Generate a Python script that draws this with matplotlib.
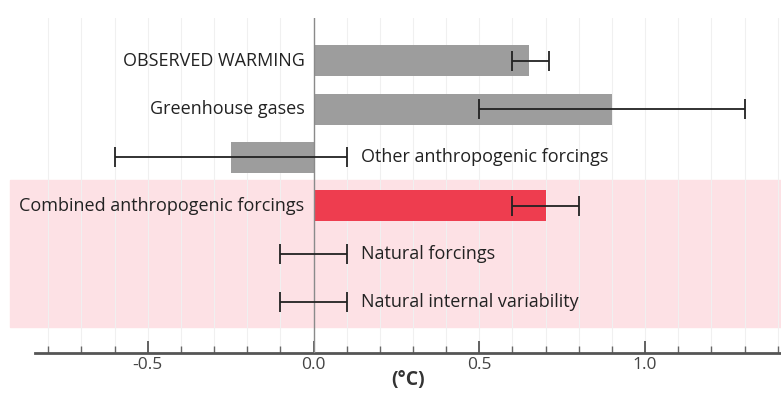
import numpy as np
import matplotlib
matplotlib.use("Agg")
import matplotlib.pyplot as plt
from matplotlib.ticker import MultipleLocator

plt.rcParams['font.family'] = ['Open Sans', 'DejaVu Sans']

# data
labels = ["OBSERVED WARMING", "Greenhouse gases", "Other anthropogenic forcings",
          "Combined anthropogenic forcings", "Natural forcings", "Natural internal variability"]
values = [0.65, 0.9, -0.25, 0.7, 0.0, 0.0]
err_lo = [0.6, 0.5, -0.6, 0.6, -0.1, -0.1]
err_hi = [0.71, 1.3, 0.1, 0.8, 0.1, 0.1]
label_side = ["left", "left", "right", "left", "right", "right"]
bar_colors = ["#9d9d9d", "#9d9d9d", "#9d9d9d", "#ee3d4f", "#9d9d9d", "#9d9d9d"]

fig = plt.figure(figsize=(7.81, 3.94), dpi=100)
ax = fig.add_axes([35/781, 1 - 353/394, 1 - 35/781, (353 - 18)/394])

y = np.arange(len(labels))
ax.set_xlim(-0.84, 1.41)
ax.set_ylim(6.06, -0.89)

# pink band behind the combined / natural rows
ax.axhspan(2.47, 5.52, xmin=-25/746, xmax=1, color="#fde1e5", zorder=0, clip_on=False)

# faint vertical grid
for gx in np.arange(-0.8, 1.41, 0.1):
    ax.axvline(gx, color="#f0f0f0", lw=0.8, zorder=0.5)

ax.barh(y, values, height=0.64, color=bar_colors, zorder=2)
ax.axvline(0, color="#8a8a8a", lw=1.0, zorder=3)

vals = np.array(values)
xerr = [vals - np.array(err_lo), np.array(err_hi) - vals]
ax.errorbar(values, y, xerr=xerr, fmt="none", ecolor="#222222", elinewidth=1.3,
            capsize=7.5, capthick=1.3, zorder=4)

for i, lab in enumerate(labels):
    if label_side[i] == "left":
        ax.annotate(lab, xy=(0, y[i]), xytext=(-6.5, 0), textcoords="offset points",
                    ha="right", va="center", fontsize=13, color="#222222")
    else:
        ax.annotate(lab, xy=(err_hi[i], y[i]), xytext=(10, 0), textcoords="offset points",
                    ha="left", va="center", fontsize=13, color="#222222")

for s in ["top", "right", "left"]:
    ax.spines[s].set_visible(False)
ax.spines["bottom"].set_color("#555555")
ax.spines["bottom"].set_linewidth(2)

ax.set_yticks([])
ax.xaxis.set_major_locator(MultipleLocator(0.5))
ax.xaxis.set_minor_locator(MultipleLocator(0.1))
ax.xaxis.set_major_formatter(matplotlib.ticker.FormatStrFormatter("%.1f"))
ax.tick_params(axis="x", which="major", direction="in", length=9, width=1.3,
               color="#555555", labelsize=12.5, labelcolor="#444444", pad=3)
ax.tick_params(axis="x", which="minor", direction="in", length=5, width=1.0,
               color="#666666")
ax.set_xlabel("(°C)", fontsize=14, fontweight="bold", color="#333333", labelpad=-2)

fig.savefig("out.png", dpi=100)
